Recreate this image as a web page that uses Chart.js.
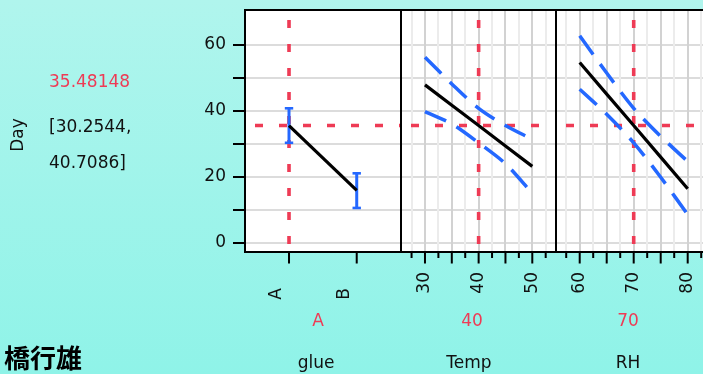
<!DOCTYPE html>
<html>
<head>
<meta charset="utf-8">
<script src="https://cdn.jsdelivr.net/npm/chart.js@4.4.1/dist/chart.umd.min.js"></script>
<style>
  html, body { margin: 0; padding: 0; width: 703px; height: 374px; overflow: hidden; }
  body { position: relative; background: linear-gradient(#b0f5ed, #8ff3e8); font-family: "DejaVu Sans", sans-serif; }
  #wrap { position: absolute; left: 0; top: 0; width: 720px; height: 374px; }
  .lbl { position: absolute; font-size: 17px; line-height: 20px; white-space: nowrap; color: #111; }
  .red { color: #ee3b55; }
  .ctr { transform: translateX(-50%); }
  #yTitle { left: 17px; top: 135px; transform: translate(-50%, -50%) rotate(-90deg); }
  #author { left: 4px; top: 340px; font: bold 26px "Noto Sans CJK JP", sans-serif; line-height: 34px; color: #000; }
</style>
</head>
<body>
<div id="wrap"><canvas id="profiler" width="720" height="374"></canvas></div>
<div class="lbl" id="yTitle">Day</div>
<div class="lbl red" style="left:49px; top:71px;">35.48148</div>
<div class="lbl" style="left:49px; top:116px;">[30.2544,</div>
<div class="lbl" style="left:49px; top:152px;">40.7086]</div>
<div class="lbl red ctr" style="left:318px; top:310px;">A</div>
<div class="lbl red ctr" style="left:472px; top:310px;">40</div>
<div class="lbl red ctr" style="left:628px; top:310px;">70</div>
<div class="lbl ctr" style="left:316px; top:352px;">glue</div>
<div class="lbl ctr" style="left:469px; top:352px;">Temp</div>
<div class="lbl ctr" style="left:628px; top:352px;">RH</div>
<div class="lbl" id="author">橋行雄</div>
<script>
// predicted Day by factor, with confidence limits
const glueLevels = ["A", "B"];
const glueFit = [35.48, 15.8];
const glueLow = [30.25, 10.5];
const glueHigh = [40.71, 21.0];

const tempX = [30, 35, 40, 45, 50];
const tempFit = [47.8, 41.6, 35.48, 29.3, 23.1];
const tempUpper = [56.2, 48.1, 40.71, 35.5, 31.3];
const tempLower = [39.7, 36.0, 30.25, 23.9, 14.9];

const rhX = [60, 65, 70, 75, 80];
const rhFit = [54.6, 45.0, 35.48, 25.9, 16.3];
const rhUpper = [62.7, 51.4, 40.71, 32.2, 24.6];
const rhLower = [46.5, 38.9, 30.25, 19.8, 8.5];

const current = { glue: 0, temp: 40, rh: 70, day: 35.48148 };

const Y_MIN = -2.85, Y_MAX = 70.5, Y_TOP_TICK = 60;
const panels = {
  x1: { min: -0.65, max: 1.654, weight: 156, step: 1 },
  x2: { min: 25.53, max: 54.42, weight: 155, step: 2.5 },
  x3: { min: 55.61, max: 84.5, weight: 156, step: 2.5 },
};
const panelIds = Object.keys(panels);

const RED = "#ee3b55", BLUE = "#2468ff";
const pts = (xs, ys) => xs.map((x, i) => ({ x, y: ys[i] }));

function fitLine(axis, data) {
  return { xAxisID: axis, data, showLine: true, borderColor: "#000", borderWidth: 3.2, pointRadius: 0, order: 1 };
}
function band(axis, data) {
  return { xAxisID: axis, data, showLine: true, borderColor: BLUE, borderWidth: 3.5, borderDash: [23, 12], tension: 0.3, pointRadius: 0, order: 2 };
}
// crosshair at the current setting, clipped to its own panel
function refLines(axis, x) {
  const p = panels[axis];
  const style = {
    xAxisID: axis, showLine: true, borderColor: RED, borderWidth: 3.6, borderDash: [8, 16], borderDashOffset: 14,
    pointRadius: 0, order: 3, clip: 0,
  };
  return [
    { ...style, data: [{ x: p.min, y: current.day }, { x: p.max, y: current.day }] },
    { ...style, data: [{ x, y: Y_MAX }, { x, y: Y_MIN }] },
  ];
}

const datasets = [
  ...refLines("x1", current.glue),
  ...refLines("x2", current.temp),
  ...refLines("x3", current.rh),
  ...glueLevels.map((_, i) => ({
    xAxisID: "x1", data: [{ x: i, y: glueLow[i] }, { x: i, y: glueHigh[i] }], showLine: true,
    borderColor: BLUE, borderWidth: 3, pointStyle: "line", pointRadius: 4.2, pointBorderWidth: 2.6,
    pointBorderColor: BLUE, order: 2,
  })),
  fitLine("x1", pts(glueLevels.map((_, i) => i), glueFit)),
  band("x2", pts(tempX, tempUpper)), band("x2", pts(tempX, tempLower)), fitLine("x2", pts(tempX, tempFit)),
  band("x3", pts(rhX, rhUpper)), band("x3", pts(rhX, rhLower)), fitLine("x3", pts(rhX, rhFit)),
];

function xScale(id, padding, labelOffset, label, gridOn) {
  const p = panels[id];
  return {
    type: "linear", position: "bottom", stack: "profile", stackWeight: p.weight,
    min: p.min, max: p.max, border: { display: false },
    grid: {
      drawOnChartArea: gridOn, tickLength: 11, tickColor: "rgba(0,0,0,0)", lineWidth: 2,
      color: (c) => (c.tick && c.tick.value % 5 === 0 ? "#d2d2d2" : "#ececec"),
    },
    ticks: { stepSize: p.step, includeBounds: false, autoSkip: false, minRotation: 90, maxRotation: 90, padding, labelOffset, callback: label },
    afterFit: (s) => { s.height = 122; s.paddingLeft = 0; s.paddingRight = 0; },
  };
}

// white plot background
const plotBackground = {
  id: "plotBackground",
  beforeDraw(chart) {
    const { ctx, chartArea: a } = chart;
    ctx.save();
    ctx.fillStyle = "#fff";
    ctx.fillRect(a.left, a.top, a.right - a.left, a.bottom - a.top);
    ctx.restore();
  },
};

// frame around the three panels and the short/long tick marks below them
const frameAndTicks = {
  id: "frameAndTicks",
  afterDraw(chart) {
    const { ctx, chartArea: a, scales } = chart;
    ctx.save();
    ctx.strokeStyle = "#000";
    ctx.lineWidth = 2;
    ctx.beginPath();
    ctx.rect(a.left, a.top, a.right - a.left, a.bottom - a.top);
    ["x1", "x2"].forEach((id) => { ctx.moveTo(scales[id].right, a.top); ctx.lineTo(scales[id].right, a.bottom); });
    panelIds.forEach((id) => {
      const s = scales[id];
      s.ticks.forEach((t) => {
        const px = s.getPixelForValue(t.value);
        const len = id === "x1" || t.value % 5 === 0 ? 11.5 : 6;
        ctx.moveTo(px, a.bottom); ctx.lineTo(px, a.bottom + len);
      });
    });
    ctx.stroke();
    ctx.restore();
  },
};

Chart.defaults.font.family = "'DejaVu Sans', sans-serif";
Chart.defaults.font.size = 17;
Chart.defaults.color = "#111";

new Chart(document.getElementById("profiler"), {
  type: "scatter",
  data: { datasets },
  options: {
    responsive: false,
    animation: false,
    devicePixelRatio: 1,
    layout: { padding: { top: 10, left: 0, right: 8, bottom: 0 } },
    plugins: { legend: { display: false }, tooltip: { enabled: false } },
    scales: {
      y: {
        type: "linear", position: "left", min: Y_MIN, max: Y_MAX, border: { display: false },
        grid: { color: "#dcdcdc", lineWidth: 2, tickColor: "#000", tickWidth: 2, tickLength: 12 },
        ticks: { stepSize: 10, includeBounds: false, autoSkip: false, padding: 7, callback: (v) => (v % 20 === 0 ? v : "") },
        afterBuildTicks: (s) => { s.ticks = s.ticks.filter((t) => t.value <= Y_TOP_TICK); },
        afterFit: (s) => { s.width = 245; s.paddingTop = 0; s.paddingBottom = 0; },
      },
      x1: xScale("x1", 25, -12, (v) => glueLevels[v] ?? "", false),
      x2: xScale("x2", 9, 0, (v) => (v % 10 === 0 ? v : ""), true),
      x3: xScale("x3", 9, 0, (v) => (v % 10 === 0 ? v : ""), true),
    },
  },
  plugins: [plotBackground, frameAndTicks],
});
</script>
</body>
</html>
